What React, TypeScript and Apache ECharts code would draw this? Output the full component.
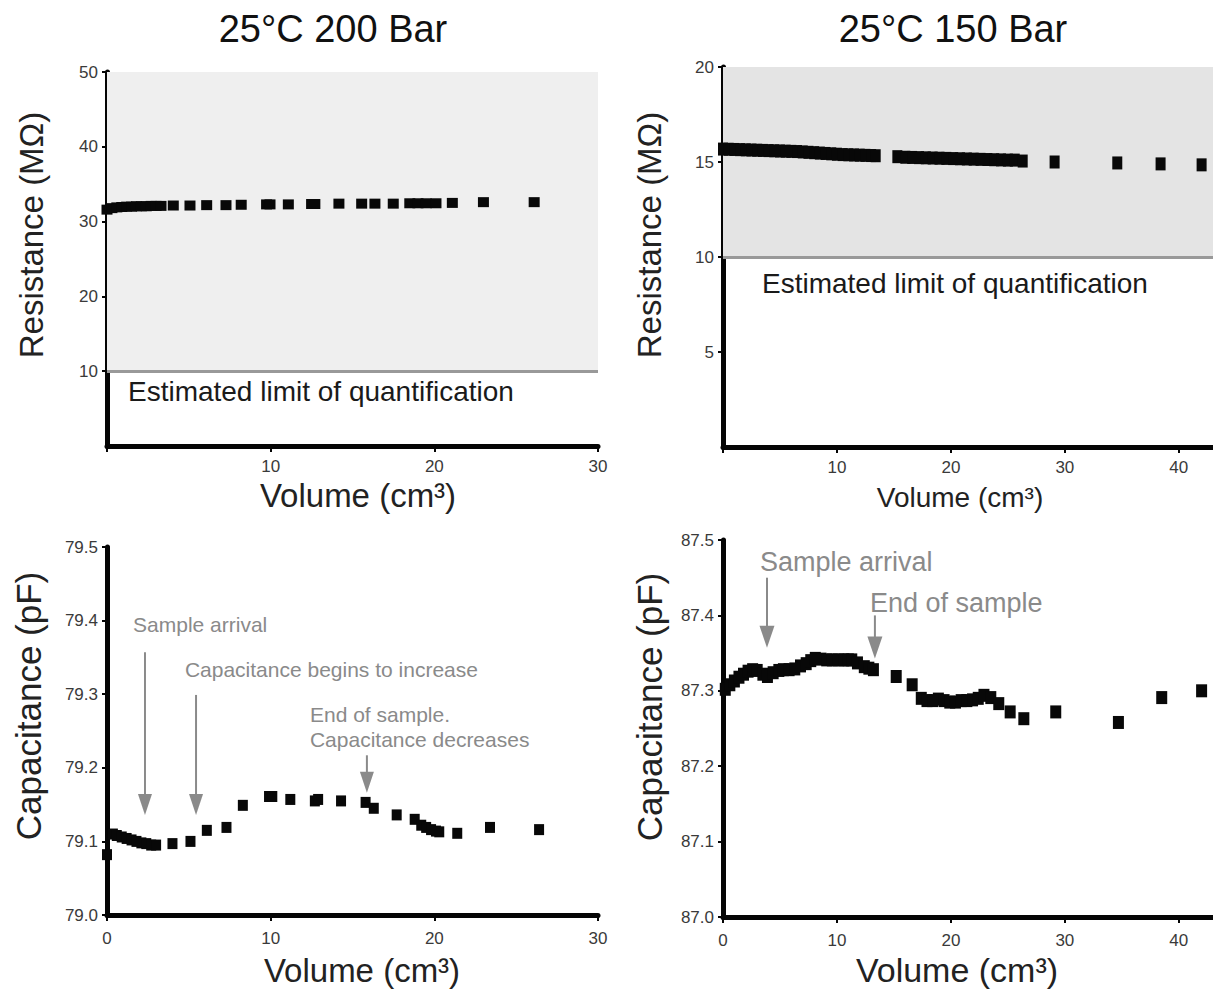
import React, { useEffect, useRef } from "react";
import * as echarts from "echarts";

const FONT = '"Liberation Sans", Arial, Helvetica, sans-serif';

// ---------- data ----------
const titles = ["25°C 200 Bar", "25°C 150 Bar"];

// Resistance, 25 °C 200 bar  [volume cm3, MΩ]
const res200: number[][] = [
  [0, 31.6], [0.3, 31.8], [0.6, 31.9], [0.9, 31.95], [1.2, 32.0], [1.5, 32.0],
  [1.8, 32.05], [2.1, 32.05], [2.4, 32.05], [2.7, 32.1], [3.0, 32.1], [3.3, 32.1],
  [4.05, 32.15], [5.07, 32.15], [6.09, 32.2], [7.27, 32.2], [8.2, 32.25],
  [9.75, 32.3], [9.96, 32.3], [11.08, 32.3], [12.5, 32.35], [12.7, 32.35],
  [14.17, 32.4], [15.56, 32.4], [16.37, 32.4], [17.49, 32.4], [18.5, 32.45],
  [19.0, 32.45], [19.5, 32.45], [20.1, 32.45], [21.1, 32.5], [23.0, 32.6], [26.1, 32.6],
];

// Resistance, 25 °C 150 bar
const res150: number[][] = [
  [0, 15.68], [0.5, 15.67], [1.0, 15.66], [1.5, 15.65], [2.0, 15.64], [2.5, 15.63],
  [3.0, 15.62], [3.5, 15.61], [4.0, 15.6], [4.5, 15.59], [5.0, 15.58], [5.5, 15.57],
  [6.0, 15.56], [6.5, 15.55], [7.0, 15.53], [7.5, 15.51], [8.0, 15.49], [8.5, 15.47],
  [9.0, 15.45], [9.5, 15.43], [10.0, 15.41], [10.5, 15.39], [11.0, 15.38], [11.5, 15.37],
  [12.0, 15.36], [12.5, 15.35], [13.0, 15.34], [13.4, 15.33], [15.3, 15.28],
  [16.0, 15.25], [16.6, 15.24], [17.2, 15.23], [17.8, 15.22], [18.4, 15.21], [19.0, 15.2],
  [19.6, 15.19], [20.2, 15.18], [20.8, 15.17], [21.4, 15.16], [22.0, 15.15], [22.6, 15.14],
  [23.2, 15.13], [23.8, 15.12], [24.4, 15.11], [25.0, 15.1], [25.6, 15.1],
  [26.3, 15.05], [29.1, 15.0], [34.6, 14.95], [38.4, 14.9], [42.0, 14.85],
];

// Capacitance, 25 °C 200 bar  [volume cm3, pF]
const cap200: number[][] = [
  [0, 79.082], [0.36, 79.11], [0.6, 79.108], [0.9, 79.106], [1.2, 79.104], [1.5, 79.102],
  [1.8, 79.1], [2.1, 79.098], [2.4, 79.097], [2.7, 79.095], [3.0, 79.095],
  [4.0, 79.097], [5.1, 79.1], [6.1, 79.115], [7.3, 79.119], [8.3, 79.149],
  [9.9, 79.161], [10.1, 79.161], [11.2, 79.157], [12.7, 79.155], [12.9, 79.157],
  [14.3, 79.155], [15.8, 79.153], [16.3, 79.145], [17.7, 79.136], [18.8, 79.13],
  [19.2, 79.122], [19.5, 79.119], [19.8, 79.116], [20.1, 79.114], [20.3, 79.113],
  [21.4, 79.111], [23.4, 79.119], [26.4, 79.116],
];

// Capacitance, 25 °C 150 bar
const cap150: number[][] = [
  [0.2, 87.302], [0.6, 87.308], [1.0, 87.313], [1.4, 87.318], [1.8, 87.322], [2.2, 87.326],
  [2.6, 87.328], [3.0, 87.327], [3.5, 87.322], [3.9, 87.319], [4.4, 87.324], [4.9, 87.327],
  [5.3, 87.328], [5.8, 87.328], [6.3, 87.329], [6.8, 87.333], [7.3, 87.336], [7.7, 87.34],
  [8.1, 87.343], [8.6, 87.342], [9.1, 87.341], [9.6, 87.341], [10.1, 87.341], [10.6, 87.341],
  [11.0, 87.341], [11.3, 87.341], [11.8, 87.337], [12.4, 87.332], [12.8, 87.33], [13.2, 87.328],
  [15.2, 87.319], [16.6, 87.308], [17.4, 87.29], [17.9, 87.287], [18.4, 87.287], [18.9, 87.289],
  [19.4, 87.287], [19.9, 87.285], [20.4, 87.285], [20.9, 87.287], [21.4, 87.287], [21.9, 87.288],
  [22.4, 87.29], [22.9, 87.294], [23.5, 87.291], [24.2, 87.283], [25.2, 87.272], [26.4, 87.263],
  [29.2, 87.272], [34.7, 87.258], [38.5, 87.291], [42.0, 87.3],
];

// tick values
const res200YTicks = [10, 20, 30, 40, 50];
const res150YTicks = [5, 10, 15, 20];
const cap200YTicks = [79.0, 79.1, 79.2, 79.3, 79.4, 79.5];
const cap150YTicks = [87.0, 87.1, 87.2, 87.3, 87.4, 87.5];
const x30Ticks = [0, 10, 20, 30];
const x40Ticks = [0, 10, 20, 30, 40];

// annotations
const limitValue = 10;
const limitLabel = "Estimated limit of quantification";
const limitLabelPos = [[1.28, 7.3], [3.42, 8.63]];
const capNotes200 = [
  { text: "Sample arrival", x: 1.59, y: 79.395 },
  { text: "Capacitance begins to increase", x: 4.76, y: 79.333 },
  { text: "End of sample.", x: 12.4, y: 79.272 },
  { text: "Capacitance decreases", x: 12.4, y: 79.238 },
];
const capArrows200 = [
  { x: 2.32, from: 79.357, to: 79.136 },
  { x: 5.44, from: 79.299, to: 79.136 },
  { x: 15.88, from: 79.217, to: 79.166 },
];
const capNotes150 = [
  { text: "Sample arrival", x: 3.25, y: 87.471 },
  { text: "End of sample", x: 12.9, y: 87.416 },
];
const capArrows150 = [
  { x: 3.86, from: 87.45, to: 87.357 },
  { x: 13.33, from: 87.4, to: 87.343 },
];

// ---------- layout ----------
const grids = [
  { left: 107, top: 72, width: 491, height: 374 },
  { left: 723, top: 67, width: 490, height: 380 },
  { left: 107, top: 547, width: 491, height: 368 },
  { left: 723, top: 540, width: 490, height: 377 },
];

const panels = [
  { xMax: 30, xLabels: [10, 20, 30], xTicks: x30Ticks, yMin: 0, yMax: 50, yInt: 10, yLabels: res200YTicks, dec: 0, data: res200, size: [11, 10], band: "#efefef", xMargin: 12 },
  { xMax: 43, xLabels: [10, 20, 30, 40], xTicks: x40Ticks, yMin: 0, yMax: 20, yInt: 5, yLabels: res150YTicks, dec: 0, data: res150, size: [10, 13], band: "#e4e4e4", xMargin: 12 },
  { xMax: 30, xLabels: x30Ticks, xTicks: x30Ticks, yMin: 79.0, yMax: 79.5, yInt: 0.1, yLabels: cap200YTicks, dec: 1, data: cap200, size: [10, 11], band: null, xMargin: 15 },
  { xMax: 43, xLabels: x40Ticks, xTicks: x40Ticks, yMin: 87.0, yMax: 87.5, yInt: 0.1, yLabels: cap150YTicks, dec: 1, data: cap150, size: [11, 13], band: null, xMargin: 15 },
];

const AXIS_COLOR = "#050505";
const LABEL_COLOR = "#3a3a3a";
const NOTE_COLOR = "#8a8a8a";

function buildOption() {
  const xAxis: any[] = [];
  const yAxis: any[] = [];
  const series: any[] = [];
  panels.forEach((p, i) => {
    xAxis.push({
      type: "value", gridIndex: i, min: 0, max: p.xMax, interval: 10,
      axisLine: { show: true, onZero: false, lineStyle: { color: AXIS_COLOR, width: 5 } },
      axisTick: { show: true, length: 6, customValues: p.xTicks, lineStyle: { color: AXIS_COLOR, width: 2 } },
      axisLabel: { show: true, customValues: p.xLabels, margin: p.xMargin, fontSize: 17, color: LABEL_COLOR, fontFamily: FONT },
      splitLine: { show: false },
    });
    yAxis.push({
      type: "value", gridIndex: i, min: p.yMin, max: p.yMax, interval: p.yInt,
      axisLine: { show: true, onZero: false, lineStyle: { color: AXIS_COLOR, width: 5 } },
      axisTick: { show: true, length: 5, customValues: p.yLabels, lineStyle: { color: AXIS_COLOR, width: 2 } },
      axisLabel: {
        show: true, customValues: p.yLabels, margin: 9, fontSize: 17, color: LABEL_COLOR, fontFamily: FONT,
        formatter: (v: number) => v.toFixed(p.dec),
      },
      splitLine: { show: false },
    });
    if (p.band) {
      series.push({
        type: "line", xAxisIndex: i, yAxisIndex: i, z: 1, data: [[0, p.yMin]], symbol: "none",
        lineStyle: { width: 0 }, silent: true,
        markArea: { silent: true, itemStyle: { color: p.band }, data: [[{ yAxis: limitValue }, { yAxis: p.yMax }]] },
        markLine: {
          silent: true, symbol: ["none", "none"], label: { show: false },
          lineStyle: { color: "#999", width: 3, type: "solid" }, data: [{ yAxis: limitValue }],
        },
      });
    }
    series.push({
      type: "scatter", xAxisIndex: i, yAxisIndex: i, z: 5, symbol: "rect", symbolSize: p.size,
      itemStyle: { color: "#080808", opacity: 1 }, data: p.data, silent: true,
    });
  });
  return {
    animation: false,
    backgroundColor: "#ffffff",
    grid: grids,
    xAxis, yAxis, series,
  };
}

function txt(text: string, x: number, y: number, size: number, fill: string, align = "center", rotation = 0) {
  return {
    type: "text", x, y, rotation, silent: true,
    style: {
      text, fill, fontSize: size, fontFamily: FONT,
      align, verticalAlign: "middle", textAlign: align, textVerticalAlign: "middle",
    },
  };
}

export default function App() {
  const ref = useRef<HTMLDivElement>(null);
  useEffect(() => {
    const chart = echarts.init(ref.current!, null, { renderer: "svg" });
    chart.setOption(buildOption());
    const px = (g: number, x: number, y: number) => chart.convertToPixel({ gridIndex: g }, [x, y]) as number[];

    const g: any[] = [];
    // titles
    g.push(txt(titles[0], 333, 29, 38, "#111"));
    g.push(txt(titles[1], 953, 29, 38, "#111"));
    // axis titles
    g.push(txt("Resistance (MΩ)", 31, 235, 33, "#222", "center", Math.PI / 2));
    g.push(txt("Resistance (MΩ)", 649, 235, 33, "#222", "center", Math.PI / 2));
    g.push(txt("Capacitance (pF)", 28, 706, 35, "#222", "center", Math.PI / 2));
    g.push(txt("Capacitance (pF)", 649, 707, 35, "#222", "center", Math.PI / 2));
    g.push(txt("Volume (cm³)", 358, 495, 33, "#222"));
    g.push(txt("Volume (cm³)", 960, 497, 28, "#222"));
    g.push(txt("Volume (cm³)", 362, 970, 33, "#222"));
    g.push(txt("Volume (cm³)", 957, 970, 34, "#222"));
    // limit labels
    limitLabelPos.forEach((pos, i) => {
      const [x, y] = px(i, pos[0], pos[1]);
      g.push(txt(limitLabel, x, y, 28, "#1a1a1a", "left"));
    });
    // notes
    const notes = (gi: number, list: any[], size: number) =>
      list.forEach((n) => {
        const [x, y] = px(gi, n.x, n.y);
        g.push(txt(n.text, x, y, size, NOTE_COLOR, "left"));
      });
    notes(2, capNotes200, 21);
    notes(3, capNotes150, 27);
    const arrows = (gi: number, list: any[], hw: number, hh: number) =>
      list.forEach((a) => {
        const [x, y1] = px(gi, a.x, a.from);
        const [, y2] = px(gi, a.x, a.to);
        g.push({ type: "line", silent: true, shape: { x1: x, y1, x2: x, y2: y2 - hh + 2 }, style: { stroke: NOTE_COLOR, lineWidth: 2 } });
        g.push({ type: "polygon", silent: true, shape: { points: [[x - hw, y2 - hh], [x + hw, y2 - hh], [x, y2]] }, style: { fill: NOTE_COLOR } });
      });
    arrows(2, capArrows200, 7, 21);
    arrows(3, capArrows150, 7.5, 22);

    chart.setOption({ graphic: g });
    return () => chart.dispose();
  }, []);
  return (
    <div
      ref={ref}
      style={{ position: "fixed", left: 0, top: 0, width: 1213, height: 991, background: "#fff" }}
    />
  );
}
